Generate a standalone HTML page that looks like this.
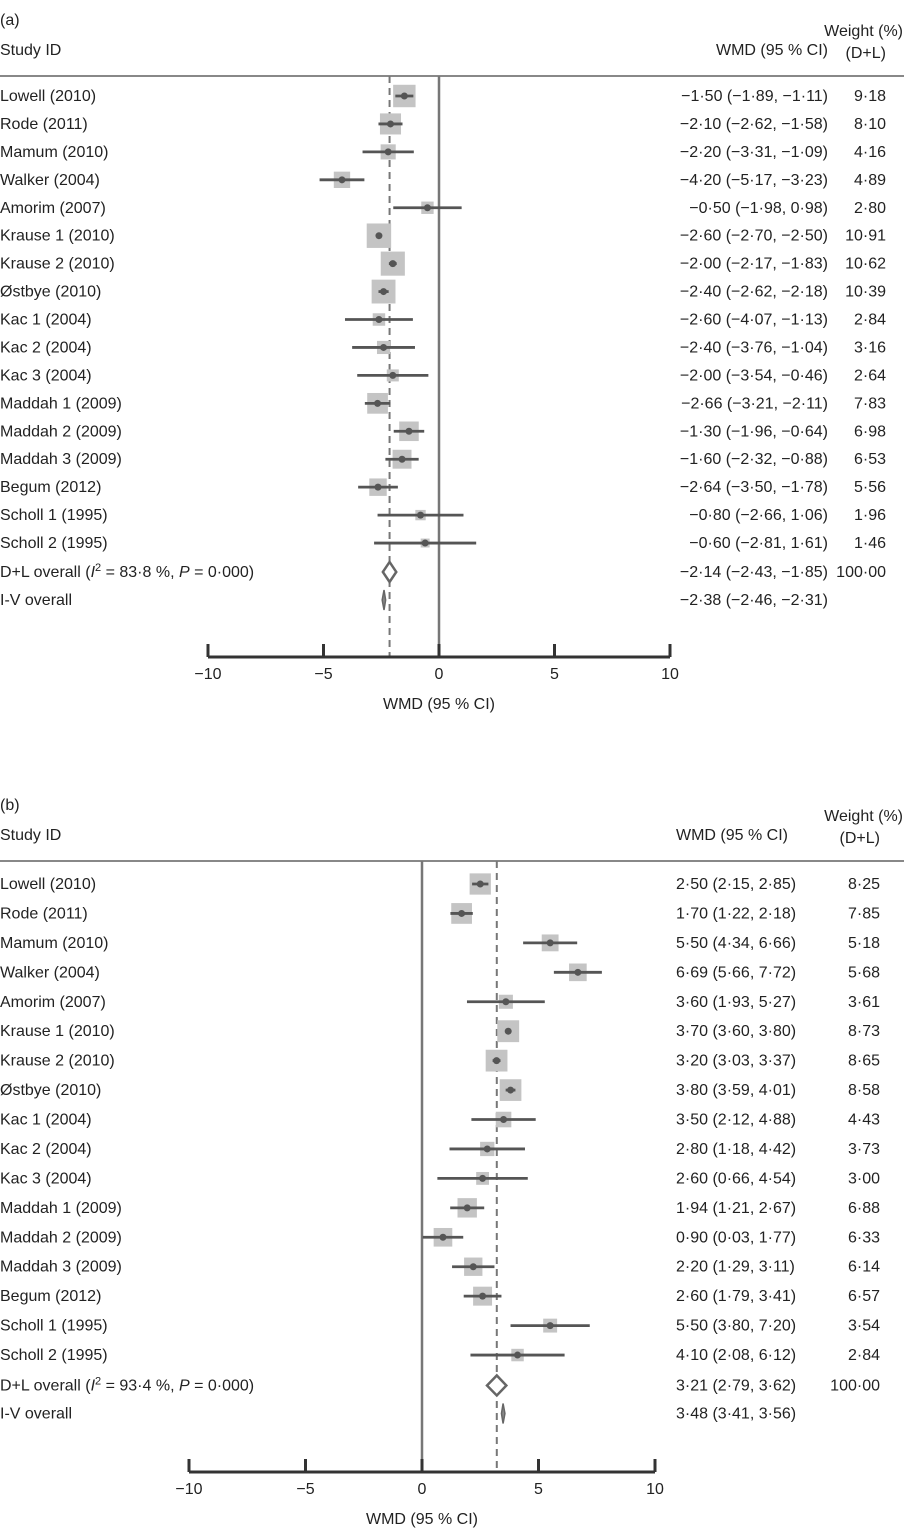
<!DOCTYPE html>
<html><head><meta charset="utf-8">
<style>
body{margin:0;background:#fff;}
svg text{font-family:"Liberation Sans",sans-serif;fill:#222;font-size:16px;}
</style></head>
<body>
<svg id="s" width="904" height="1531"></svg>
<script>
const studies=["Lowell (2010)","Rode (2011)","Mamum (2010)","Walker (2004)","Amorim (2007)","Krause 1 (2010)","Krause 2 (2010)","Østbye (2010)","Kac 1 (2004)","Kac 2 (2004)","Kac 3 (2004)","Maddah 1 (2009)","Maddah 2 (2009)","Maddah 3 (2009)","Begum (2012)","Scholl 1 (1995)","Scholl 2 (1995)"];
const aEst=[-1.50,-2.10,-2.20,-4.20,-0.50,-2.60,-2.00,-2.40,-2.60,-2.40,-2.00,-2.66,-1.30,-1.60,-2.64,-0.80,-0.60];
const aLo=[-1.89,-2.62,-3.31,-5.17,-1.98,-2.70,-2.17,-2.62,-4.07,-3.76,-3.54,-3.21,-1.96,-2.32,-3.50,-2.66,-2.81];
const aHi=[-1.11,-1.58,-1.09,-3.23,0.98,-2.50,-1.83,-2.18,-1.13,-1.04,-0.46,-2.11,-0.64,-0.88,-1.78,1.06,1.61];
const aW=[9.18,8.10,4.16,4.89,2.80,10.91,10.62,10.39,2.84,3.16,2.64,7.83,6.98,6.53,5.56,1.96,1.46];
const aDL=[-2.14,-2.43,-1.85,100.00];
const aIV=[-2.38,-2.46,-2.31];
const bEst=[2.50,1.70,5.50,6.69,3.60,3.70,3.20,3.80,3.50,2.80,2.60,1.94,0.90,2.20,2.60,5.50,4.10];
const bLo=[2.15,1.22,4.34,5.66,1.93,3.60,3.03,3.59,2.12,1.18,0.66,1.21,0.03,1.29,1.79,3.80,2.08];
const bHi=[2.85,2.18,6.66,7.72,5.27,3.80,3.37,4.01,4.88,4.42,4.54,2.67,1.77,3.11,3.41,7.20,6.12];
const bW=[8.25,7.85,5.18,5.68,3.61,8.73,8.65,8.58,4.43,3.73,3.00,6.88,6.33,6.14,6.57,3.54,2.84];
const bDL=[3.21,2.79,3.62,100.00];
const bIV=[3.48,3.41,3.56];
const ticks=[-10,-5,0,5,10];
const NS="http://www.w3.org/2000/svg",svg=document.getElementById('s');
function el(t,a,txt){const e=document.createElementNS(NS,t);for(const k in a)e.setAttribute(k,a[k]);if(txt!==undefined)e.textContent=txt;svg.appendChild(e);return e;}
function f(v){const s=Math.abs(v).toFixed(2).replace('.','·');return (v<0?'\u2212':'')+s;}
function fw(v){return v.toFixed(2).replace('.','·');}
function panel(p){
 const X=v=>p.x0+v*p.k;
 let e;
 e=el('text',{x:0,y:p.top-25},p.label);
 e=el('text',{x:0,y:p.top+5},'Study ID');
 e=el('text',{x:p.estX,y:p.top+5,'text-anchor':p.estAnchor},'WMD (95 % CI)');
 e=el('text',{x:903,y:p.top-14,'text-anchor':'end'},'Weight (%)');
 e=el('text',{x:p.wX,y:p.top+8,'text-anchor':'end'},'(D+L)');
 e=el('line',{x1:0,x2:904,y1:p.hdr,y2:p.hdr,stroke:'#888','stroke-width':2});
 e=el('line',{x1:X(0),x2:X(0),y1:p.hdr,y2:p.axY,stroke:'#777','stroke-width':2.5});
 e=el('line',{x1:X(p.dl[0]),x2:X(p.dl[0]),y1:p.hdr,y2:p.axY,stroke:'#777','stroke-width':2,'stroke-dasharray':'7,5'});
 for(let i=0;i<studies.length;i++){
  const y=p.r0+i*p.dy;
  e=el('text',{x:0,y:y+5},studies[i]);
  const s=7.4*Math.sqrt(p.w[i]);
  e=el('rect',{x:X(p.est[i])-s/2,y:y-s/2,width:s,height:s,fill:'#c4c4c4'});
  e=el('line',{x1:X(p.lo[i]),x2:X(p.hi[i]),y1:y,y2:y,stroke:'#555','stroke-width':2.8});
  e=el('circle',{cx:X(p.est[i]),cy:y,r:3.5,fill:'#555'});
  e=el('text',{x:p.valX,y:y+5,'text-anchor':p.valAnchor},p.fmt(p.est[i],p.lo[i],p.hi[i]));
  e=el('text',{x:p.wX,y:y+5,'text-anchor':'end'},fw(p.w[i]));
 }
 const yd=p.r0+17*p.dy+p.extra, yi=yd+28;
 e=el('text',{x:0,y:yd+5},'');e.innerHTML='D+L overall (<tspan font-style="italic">I</tspan><tspan dy="-6" font-size="11">2</tspan><tspan dy="6"> = '+p.i2+', </tspan><tspan font-style="italic">P</tspan> = 0·000)';
 e=el('polygon',{points:`${X(p.dl[1])},${yd} ${X(p.dl[0])},${yd-10} ${X(p.dl[2])},${yd} ${X(p.dl[0])},${yd+10}`,fill:'#fff',stroke:'#666','stroke-width':2.5});
 e=el('text',{x:p.valX,y:yd+5,'text-anchor':p.valAnchor},p.fmt(p.dl[0],p.dl[1],p.dl[2]));
 e=el('text',{x:p.wX,y:yd+5,'text-anchor':'end'},fw(p.dl[3]));
 e=el('text',{x:0,y:yi+5},'I-V overall');
 e=el('polygon',{points:`${X(p.iv[1])},${yi} ${X(p.iv[0])},${yi-10} ${X(p.iv[2])},${yi} ${X(p.iv[0])},${yi+10}`,fill:'#888',stroke:'#666','stroke-width':1.5});
 e=el('text',{x:p.valX,y:yi+5,'text-anchor':p.valAnchor},p.fmt(p.iv[0],p.iv[1],p.iv[2]));
 e=el('line',{x1:X(-10),x2:X(10),y1:p.axY,y2:p.axY,stroke:'#333','stroke-width':3});
 ticks.forEach(t=>{
  e=el('line',{x1:X(t),x2:X(t),y1:p.axY-13,y2:p.axY,stroke:'#333','stroke-width':3});
  e=el('text',{x:X(t),y:p.axY+22,'text-anchor':'middle'},t<0?'\u2212'+(-t):String(t));
 });
 e=el('text',{x:X(0),y:p.axY+52,'text-anchor':'middle'},'WMD (95 % CI)');
}
panel({label:'(a)',top:50,hdr:76,x0:439,k:23.1,r0:96,dy:27.94,extra:1,axY:657,est:aEst,lo:aLo,hi:aHi,w:aW,dl:aDL,iv:aIV,i2:'83·8 %',
 estX:828,estAnchor:'end',valX:828,valAnchor:'end',wX:886,fmt:(e,l,h)=>`${f(e)} (${f(l)}, ${f(h)})`});
panel({label:'(b)',top:835,hdr:861,x0:422,k:23.3,r0:884,dy:29.44,extra:1,axY:1472,est:bEst,lo:bLo,hi:bHi,w:bW,dl:bDL,iv:bIV,i2:'93·4 %',
 estX:676,estAnchor:'start',valX:676,valAnchor:'start',wX:880,fmt:(e,l,h)=>`${f(e)} (${f(l)}, ${f(h)})`});
</script>
</body></html>
